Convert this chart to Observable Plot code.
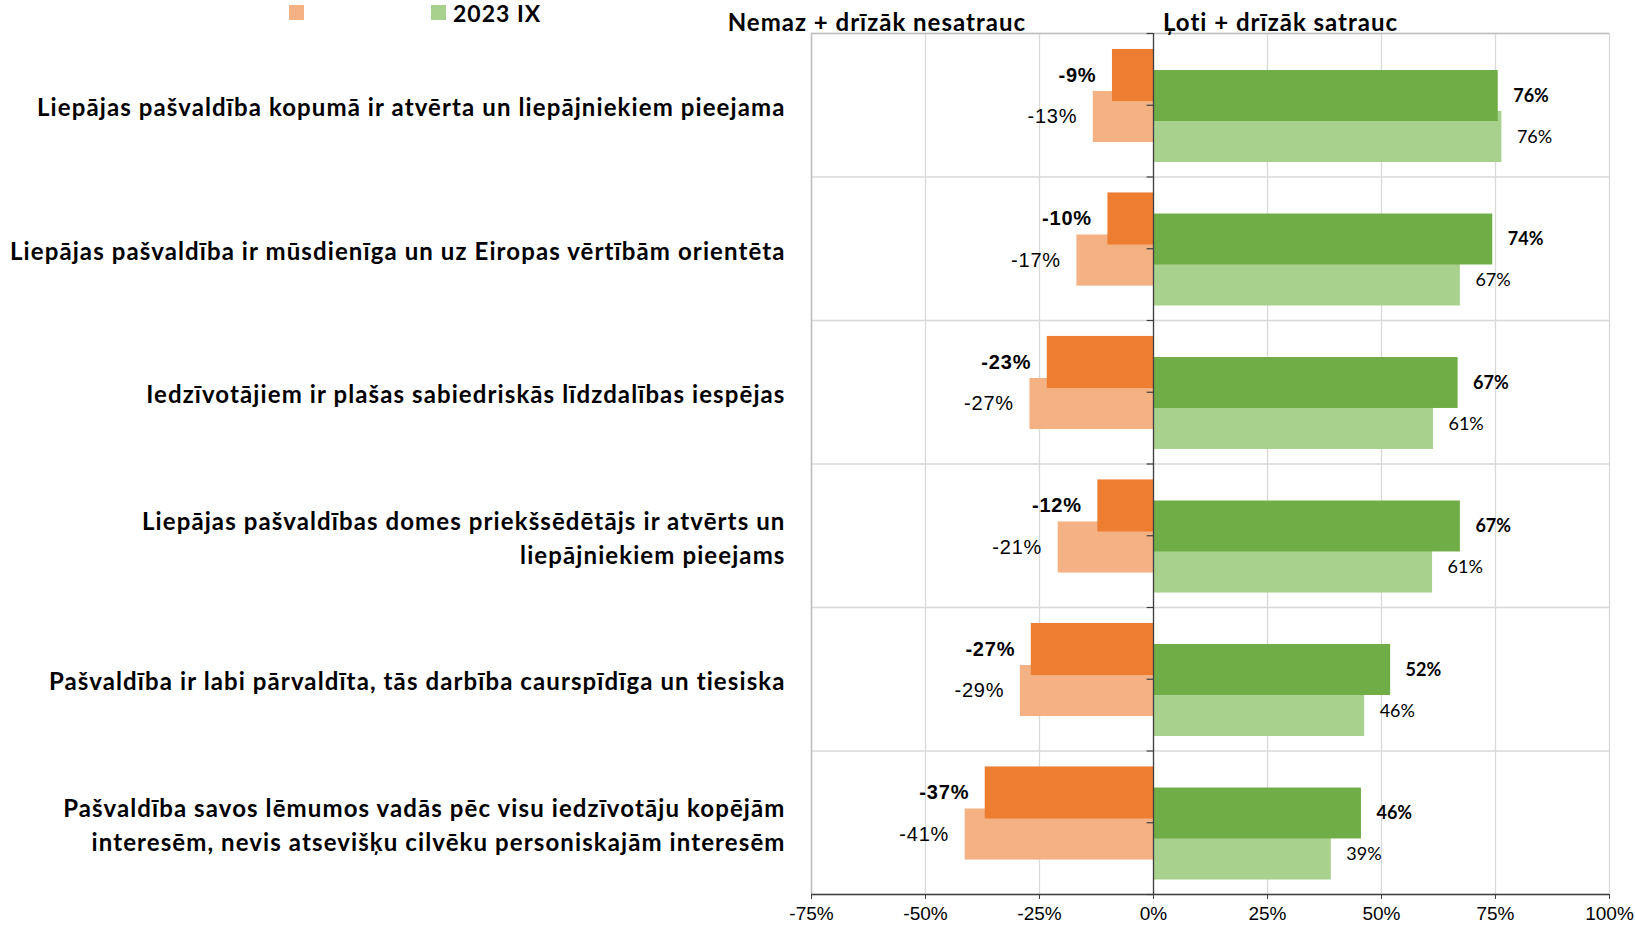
<!DOCTYPE html>
<html><head><meta charset="utf-8">
<script src="https://cdn.jsdelivr.net/npm/d3@7"></script>
<script src="https://cdn.jsdelivr.net/npm/@observablehq/plot@0.6"></script>
<style>
body{margin:0;background:#fff;}
#wrap{position:relative;width:1635px;height:926px;overflow:hidden;}
.t{position:absolute;font-family:Lato,"Open Sans",sans-serif;font-weight:bold;color:#000;white-space:nowrap;line-height:1.2;letter-spacing:1px;}
.sw{position:absolute;width:15px;height:15px;}
g[font-family="Lato, sans-serif"]{letter-spacing:1.1px;}
g[font-family="Arial, 'Liberation Sans', sans-serif"]{letter-spacing:0.8px;}
</style></head><body><div id="wrap"></div>
<script>
const categories = [
  "Liepājas pašvaldība kopumā ir atvērta un liepājniekiem pieejama",
  "Liepājas pašvaldība ir mūsdienīga un uz Eiropas vērtībām orientēta",
  "Iedzīvotājiem ir plašas sabiedriskās līdzdalības iespējas",
  "Liepājas pašvaldības domes priekšsēdētājs ir atvērts un\nliepājniekiem pieejams",
  "Pašvaldība ir labi pārvaldīta, tās darbība caurspīdīga un tiesiska",
  "Pašvaldība savos lēmumos vadās pēc visu iedzīvotāju kopējām\ninteresēm, nevis atsevišķu cilvēku personiskajām interesēm"
];
const negCurrent = [-9.0, -10.0, -23.3, -12.2, -26.8, -36.9];
const negPrev    = [-13.2, -16.8, -27.1, -20.9, -29.2, -41.3];
const posCurrent = [75.6, 74.4, 66.8, 67.3, 52.0, 45.6];
const posPrev    = [76.4, 67.3, 61.4, 61.2, 46.3, 39.0];
const xTicks = [-75, -50, -25, 0, 25, 50, 75, 100];
const legendLabels = ["", "2023 IX"];
const headers = ["Nemaz + drīzāk nesatrauc", "Ļoti + drīzāk satrauc"];

const C = {negCur: "#ED7D31", negPrev: "#F4B183", posCur: "#70AD47", posPrev: "#A9D18E"};
// slot offsets within each category band (fraction of band)
const slots = {
  negCur: [0.111, 0.474],
  negPrev: [0.404, 0.760],
  posCur: [0.258, 0.613],
  posPrev: [0.543, 0.899]
};
function rows(vals, key) {
  return vals.map((v, i) => ({i, v, key, y1: i + slots[key][0], y2: i + slots[key][1], ym: i + (slots[key][0] + slots[key][1]) / 2}));
}
const rNegPrev = rows(negPrev, "negPrev");
const rNegCur = rows(negCurrent, "negCur");
const rPosPrev = rows(posPrev, "posPrev");
const rPosCur = rows(posCurrent, "posCur");
const bounds = d3.range(0, 7);
const axisTicks = d3.range(0, 6.5, 0.5);
const fmt = v => Math.round(v) + "%";
const ORANGE_FONT = "Arial, 'Liberation Sans', sans-serif";

const chart = Plot.plot({
  width: 1635, height: 926,
  marginLeft: 811, marginRight: 26, marginTop: 33, marginBottom: 32,
  x: {domain: [-75, 100], label: null},
  y: {domain: [0, 6], reverse: true, axis: null, label: null},
  style: {fontFamily: "'Liberation Sans', Arial, sans-serif", background: "white", color: "#000"},
  marks: [
    Plot.ruleX(xTicks, {stroke: "#d9d9d9", strokeWidth: 1.3}),
    Plot.ruleY(bounds, {stroke: "#d9d9d9", strokeWidth: 1.3}),
    Plot.ruleX([-75], {stroke: "#bfbfbf", strokeWidth: 1.5}),
    Plot.ruleY([0], {stroke: "#bfbfbf", strokeWidth: 1.5}),
    Plot.rectX(rNegPrev, {x1: 0, x2: "v", y1: "y1", y2: "y2", fill: C.negPrev}),
    Plot.rectX(rNegCur, {x1: 0, x2: "v", y1: "y1", y2: "y2", fill: C.negCur}),
    Plot.rectX(rPosPrev, {x1: 0, x2: "v", y1: "y1", y2: "y2", fill: C.posPrev}),
    Plot.rectX(rPosCur, {x1: 0, x2: "v", y1: "y1", y2: "y2", fill: C.posCur}),
    Plot.ruleX([0], {stroke: "#404040", strokeWidth: 1.3}),
    Plot.ruleY(axisTicks, {x1: 0, x2: -1.4, stroke: "#404040", strokeWidth: 1.2}),
    Plot.ruleY([6], {stroke: "#404040", strokeWidth: 1.5}),
    Plot.axisX(xTicks, {tickSize: 5, tickPadding: 7, tickFormat: d => d + "%", fontSize: 19, stroke: "#404040", label: null}),
    Plot.text(rNegCur, {x: "v", y: "ym", text: d => fmt(d.v), textAnchor: "end", dx: -16, fontSize: 20, fontWeight: "bold", fontFamily: ORANGE_FONT}),
    Plot.text(rNegPrev, {x: "v", y: "ym", text: d => fmt(d.v), textAnchor: "end", dx: -16, fontSize: 20, fontFamily: ORANGE_FONT}),
    Plot.text(rPosCur, {x: "v", y: "ym", text: d => fmt(d.v), textAnchor: "start", dx: 15, fontSize: 18, fontWeight: "bold", fontFamily: "Lato"}),
    Plot.text(rPosPrev, {x: "v", y: "ym", text: d => fmt(d.v), textAnchor: "start", dx: 15, fontSize: 18, fontFamily: "Lato"}),
    Plot.text(categories, {y: (d, i) => i + 0.5, frameAnchor: "left", dx: -26, textAnchor: "end", fontSize: 24, fontWeight: "bold", fontFamily: "Lato, sans-serif", lineHeight: 1.43})
  ]
});
const wrap = document.getElementById("wrap");
wrap.appendChild(chart);
function add(cls, style, text) {
  const el = document.createElement("div");
  el.className = cls;
  Object.assign(el.style, style);
  if (text != null) el.textContent = text;
  wrap.appendChild(el);
}
add("sw", {left: "289px", top: "5px", background: C.negPrev});
add("t", {left: "310px", top: "0px", fontSize: "23px"}, legendLabels[0]);
add("sw", {left: "431px", top: "5px", background: C.posPrev});
add("t", {left: "453px", top: "0px", fontSize: "23px"}, legendLabels[1]);
add("t", {right: (1635 - 1026) + "px", top: "8px", fontSize: "24px"}, headers[0]);
add("t", {left: "1163px", top: "8px", fontSize: "24px"}, headers[1]);
</script>
</body></html>
